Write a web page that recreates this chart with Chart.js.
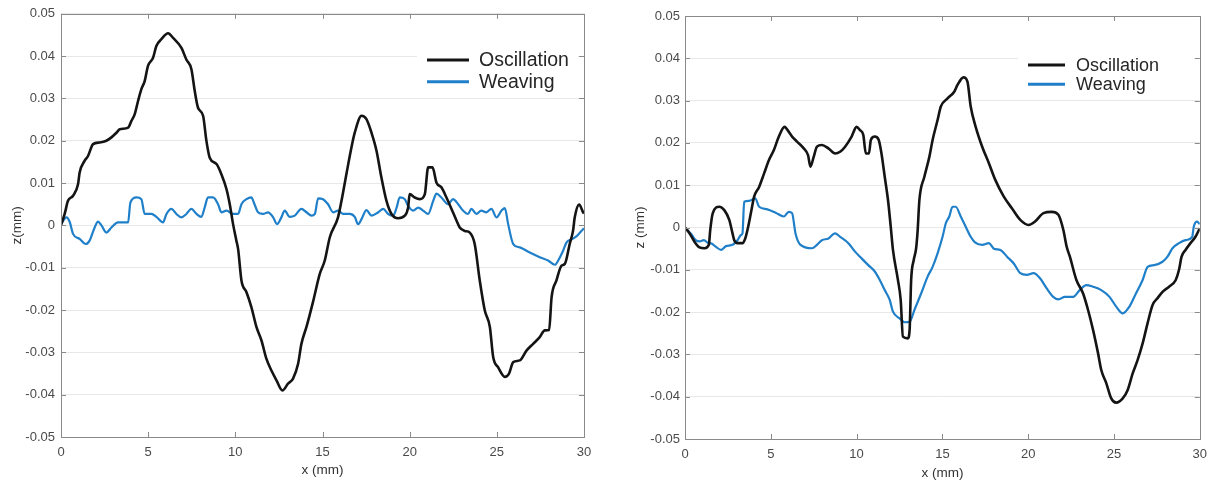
<!DOCTYPE html>
<html>
<head>
<meta charset="utf-8">
<script src="https://cdn.jsdelivr.net/npm/chart.js@4.4.0/dist/chart.umd.min.js"></script>
<style>
  body { margin: 0; background: #fff; }
  canvas { position: absolute; top: 0; }
  #left-chart { left: 0; }
  #right-chart { left: 610px; }
</style>
</head>
<body>
<canvas id="left-chart" width="600" height="484"></canvas>
<canvas id="right-chart" width="605" height="484"></canvas>
<script>
// ---- data (x in mm, z in mm) ----
const seriesNames = ['Oscillation', 'Weaving'];
const xTicks = [0, 5, 10, 15, 20, 25, 30];
const zTicks = [-0.05, -0.04, -0.03, -0.02, -0.01, 0, 0.01, 0.02, 0.03, 0.04, 0.05];

// left panel
const leftOscX = [0, 0.21, 0.4, 0.69, 0.98, 1.07, 1.36, 1.55, 1.84, 2.22, 2.6, 2.89, 3.18, 3.37, 3.85, 4.04, 4.23, 4.42, 4.61, 4.8,
  4.99, 5.28, 5.47, 5.76, 6.14, 6.43, 6.9, 7.19, 7.48, 7.67, 7.86, 8.15, 8.34, 8.53, 8.92, 9.2, 9.49, 9.68, 9.87, 10.06,
  10.16, 10.35, 10.64, 10.92, 11.21, 11.5, 11.78, 12.07, 12.36, 12.7, 13.02, 13.31, 13.6, 13.79, 14.08, 14.46, 14.84, 15.13, 15.42, 15.89,
  16.09, 16.37, 16.66, 16.85, 17.24, 17.52, 17.81, 18.1, 18.38, 18.67, 18.96, 19.34, 19.72, 19.91, 20.0, 20.29, 20.58, 20.87, 21.06, 21.31,
  21.54, 21.82, 22.11, 22.4, 22.69, 22.87, 23.16, 23.45, 23.73, 24.02, 24.31, 24.6, 24.79, 25.07, 25.46, 25.7, 25.94, 26.32, 26.7, 27.08,
  27.46, 27.75, 28.0, 28.14, 28.42, 28.71, 28.9, 29.18, 29.37, 29.47, 29.72, 29.95, 30];
const leftOscZ = [0, 0.0027, 0.0058, 0.007, 0.0098, 0.0125, 0.0153, 0.0164, 0.0192, 0.0196, 0.02, 0.0208, 0.0219, 0.0227, 0.0231, 0.0247, 0.0263, 0.0294, 0.0322, 0.0341,
  0.0377, 0.0396, 0.0424, 0.044, 0.0454, 0.0443, 0.042, 0.0392, 0.0369, 0.0318, 0.0278, 0.0259, 0.02, 0.016, 0.0145, 0.0121, 0.0086, 0.005, 0.0003, -0.0036,
  -0.0056, -0.013, -0.0158, -0.0193, -0.024, -0.0272, -0.0315, -0.0343, -0.0366, -0.039, -0.0374, -0.0362, -0.0327, -0.028, -0.024, -0.018, -0.0115, -0.0083, -0.0028, 0.0019,
  0.0058, 0.0121, 0.0184, 0.0219, 0.0259, 0.0251, 0.0219, 0.0176, 0.0113, 0.0058, 0.0027, 0.0017, 0.0023, 0.0042, 0.0074, 0.0066, 0.0062, 0.0074, 0.0137, 0.0137,
  0.0101, 0.009, 0.0066, 0.0039, 0.0011, -0.0005, -0.0013, -0.0017, -0.0044, -0.013, -0.0201, -0.024, -0.0311, -0.0335, -0.0358, -0.035, -0.0323, -0.0319, -0.0296, -0.028,
  -0.0264, -0.0248, -0.0247, -0.017, -0.013, -0.0095, -0.0091, -0.0044, -0.0013, 0.0019, 0.0049, 0.0031, 0.0028];

const leftWeaX = [0, 0.31, 0.5, 0.69, 1.07, 1.42, 1.64, 1.93, 2.12, 2.32, 2.6, 2.89, 3.27, 3.85, 3.98, 4.33, 4.61, 4.8, 5.19, 5.47,
  5.85, 6.05, 6.33, 6.62, 6.9, 7.19, 7.48, 7.77, 8.05, 8.24, 8.43, 8.72, 9.01, 9.2, 9.49, 9.87, 10.16, 10.35, 10.64, 10.92,
  11.1, 11.3, 11.59, 11.88, 12.17, 12.39, 12.64, 12.83, 13.12, 13.41, 13.79, 14.08, 14.37, 14.56, 14.75, 15.03, 15.32, 15.61, 15.89, 16.18,
  16.56, 16.85, 17.04, 17.24, 17.52, 17.81, 18.2, 18.48, 18.77, 19.06, 19.25, 19.43, 19.72, 19.91, 20.2, 20.49, 20.77, 21.06, 21.35, 21.54,
  21.82, 22.2, 22.49, 22.78, 23.06, 23.35, 23.54, 23.83, 24.11, 24.4, 24.69, 24.98, 25.27, 25.46, 25.65, 25.94, 26.32, 26.89, 27.46, 27.94,
  28.33, 28.52, 28.8, 29.0, 29.28, 29.56, 29.85, 30];
const leftWeaZ = [0.0003, 0.0019, 0.0008, -0.002, -0.0032, -0.0044, -0.0036, -0.0005, 0.0009, 0, -0.0017, -0.0005, 0.0007, 0.0007, 0.0054, 0.0066, 0.0062, 0.0027, 0.0027, 0.002,
  0.0007, 0.0027, 0.0039, 0.0027, 0.0019, 0.0027, 0.0039, 0.0027, 0.002, 0.0042, 0.0066, 0.0066, 0.005, 0.0031, 0.0035, 0.0027, 0.0027, 0.005, 0.0062, 0.0066,
  0.005, 0.0031, 0.0027, 0.0031, 0.0019, 0.0003, 0.0019, 0.0035, 0.002, 0.0023, 0.0039, 0.0031, 0.0023, 0.0027, 0.0064, 0.0062, 0.005, 0.0031, 0.0035, 0.0027,
  0.0027, 0.002, 0.0003, 0.0015, 0.0036, 0.0023, 0.0031, 0.0039, 0.0027, 0.0023, 0.0042, 0.0066, 0.0062, 0.0046, 0.0035, 0.0042, 0.0035, 0.0027, 0.0058, 0.0075,
  0.0066, 0.005, 0.0062, 0.005, 0.0035, 0.0027, 0.0039, 0.0027, 0.0035, 0.0031, 0.0039, 0.0019, 0.0035, 0.0041, 0.0003, -0.0044, -0.0052, -0.0064, -0.0075, -0.0083,
  -0.0093, -0.0083, -0.006, -0.004, -0.0033, -0.0026, -0.0013, -0.0007];

// right panel
const rightOscX = [0, 0.27, 0.56, 0.85, 1.14, 1.39, 1.47, 1.62, 2.0, 2.29, 2.58, 2.77, 2.87, 3.06, 3.35, 3.51, 3.64, 3.84, 4.03, 4.32,
  4.61, 4.9, 5.18, 5.47, 5.8, 6.05, 6.24, 6.53, 6.92, 7.17, 7.31, 7.5, 7.69, 7.98, 8.36, 8.75, 9.04, 9.33, 9.71, 10.0,
  10.2, 10.39, 10.54, 10.72, 10.83, 11.06, 11.29, 11.45, 11.64, 11.83, 11.99, 12.12, 12.41, 12.57, 12.7, 12.99, 13.09, 13.18, 13.33, 13.47,
  13.56, 13.66, 13.95, 14.24, 14.43, 14.72, 14.91, 15.3, 15.69, 15.88, 16.23, 16.46, 16.65, 16.94, 17.32, 17.71, 18.09, 18.58, 19.06, 19.54,
  20.02, 20.4, 20.89, 21.37, 21.76, 22.05, 22.24, 22.43, 22.81, 23.2, 23.49, 23.78, 24.07, 24.26, 24.55, 24.84, 25.13, 25.51, 25.8, 26.09,
  26.38, 26.67, 26.96, 27.25, 27.54, 27.83, 28.21, 28.6, 28.79, 28.94, 29.17, 29.46, 29.75, 30];
const rightOscZ = [0, -0.0014, -0.0034, -0.0047, -0.0049, -0.0041, -0.0006, 0.0034, 0.0049, 0.0041, 0.0018, -0.0014, -0.003, -0.0037, -0.0037, -0.0026, -0.0006, 0.0034, 0.0073, 0.0096,
  0.0128, 0.016, 0.0183, 0.0215, 0.0238, 0.0226, 0.0215, 0.0203, 0.0187, 0.0171, 0.0144, 0.0167, 0.0191, 0.0195, 0.0187, 0.0175, 0.0179, 0.0191, 0.0215, 0.0238,
  0.023, 0.0219, 0.0175, 0.0175, 0.0207, 0.0215, 0.0207, 0.0175, 0.012, 0.0065, 0.0002, -0.0053, -0.0124, -0.0171, -0.0258, -0.0262, -0.0242, -0.0124, -0.0077, -0.0049,
  -0.0006, 0.0065, 0.012, 0.0167, 0.0207, 0.0254, 0.0286, 0.0305, 0.0321, 0.0337, 0.0355, 0.0345, 0.0286, 0.0238, 0.0191, 0.0152, 0.0112, 0.0073, 0.0045, 0.0018,
  0.0006, 0.0014, 0.0034, 0.0037, 0.003, -0.0006, -0.0045, -0.0069, -0.0124, -0.0156, -0.0195, -0.0242, -0.0297, -0.0337, -0.0368, -0.0404, -0.0414, -0.0404, -0.0384, -0.0345,
  -0.0313, -0.0274, -0.0226, -0.0183, -0.0167, -0.0152, -0.014, -0.0124, -0.01, -0.0069, -0.0053, -0.0037, -0.0022, -0.0002];

const rightWeaX = [0, 0.37, 0.62, 0.85, 1.1, 1.33, 1.55, 1.81, 2.1, 2.39, 2.77, 3.06, 3.26, 3.35, 3.45, 3.74, 4.09, 4.32, 4.8, 5.28,
  5.76, 6.05, 6.24, 6.44, 6.73, 7.4, 7.69, 7.98, 8.36, 8.74, 9.04, 9.52, 9.91, 10.29, 10.68, 11.06, 11.35, 11.64, 11.93, 12.12,
  12.51, 12.8, 13.09, 13.37, 13.76, 14.14, 14.43, 14.72, 15.01, 15.2, 15.4, 15.59, 15.78, 16.07, 16.36, 16.65, 16.9, 17.32, 17.71, 18.0,
  18.38, 18.77, 19.16, 19.54, 19.93, 20.31, 20.69, 21.08, 21.46, 21.76, 22.14, 22.62, 23.0, 23.39, 23.78, 24.26, 24.74, 25.13, 25.51, 25.9,
  26.28, 26.67, 26.96, 27.34, 27.83, 28.12, 28.41, 28.79, 29.17, 29.56, 29.65, 29.84, 30];
const rightWeaZ = [0, -0.0016, -0.003, -0.0033, -0.003, -0.0036, -0.0038, -0.0046, -0.0053, -0.0044, -0.0041, -0.003, -0.0018, -0.0014, 0.0061, 0.0063, 0.0069, 0.0049, 0.0043, 0.0035,
  0.0026, 0.0037, 0.0034, -0.0014, -0.0041, -0.0049, -0.0041, -0.003, -0.0026, -0.0014, -0.0022, -0.0037, -0.0057, -0.0073, -0.0089, -0.0104, -0.0124, -0.0148, -0.0171, -0.0199,
  -0.0215, -0.0224, -0.0223, -0.0195, -0.0156, -0.0116, -0.0093, -0.0061, -0.0022, 0.001, 0.0026, 0.0049, 0.0049, 0.0026, 0.0002, -0.0022, -0.0035, -0.0041, -0.0037, -0.005,
  -0.0053, -0.0069, -0.0085, -0.0108, -0.0112, -0.0108, -0.012, -0.0144, -0.0164, -0.017, -0.0164, -0.0164, -0.0148, -0.0136, -0.014, -0.0148, -0.0164, -0.0187, -0.0203, -0.0187,
  -0.0156, -0.0124, -0.0093, -0.0089, -0.0081, -0.0069, -0.0049, -0.0037, -0.003, -0.0022, 0.0002, 0.0014, 0.0008];

const OSC_COLOR = '#141414';
const WEA_COLOR = '#1f7fc9';
const FRAME_COLOR = '#8a8a8a';
const FONT = "'Liberation Sans', Arial, sans-serif";

function toPoints(xs, zs) {
    const n = Math.min(xs.length, zs.length);
    const pts = [];
    for (let i = 0; i < n; i++) pts.push({ x: xs[i], y: zs[i] });
    return pts;
}

// MATLAB style box with inward ticks + legend sitting inside the axes
const boxPlugin = {
    id: 'matlabBox',
    afterDatasetsDraw(chart, args, opts) {
        const { ctx, chartArea: a, scales } = chart;
        const lg = opts.legend;
        ctx.save();

        // legend
        ctx.fillStyle = '#fff';
        ctx.fillRect(lg.box[0], lg.box[1], lg.box[2], lg.box[3]);
        ctx.font = lg.fontSize + 'px ' + FONT;
        ctx.textBaseline = 'middle';
        chart.data.datasets.forEach((ds, i) => {
            const y = lg.rows[i];
            ctx.strokeStyle = ds.borderColor;
            ctx.lineWidth = 3;
            ctx.beginPath();
            ctx.moveTo(lg.lineX[0], y);
            ctx.lineTo(lg.lineX[1], y);
            ctx.stroke();
            ctx.fillStyle = '#262626';
            ctx.fillText(ds.label, lg.textX, y + 1);
        });

        // frame
        ctx.strokeStyle = FRAME_COLOR;
        ctx.lineWidth = 1;
        ctx.strokeRect(Math.round(a.left) + 0.5, Math.round(a.top) + 0.5,
            Math.round(a.right - a.left), Math.round(a.bottom - a.top));

        const t = 5;
        ctx.beginPath();
        xTicks.forEach(v => {
            const px = Math.round(scales.x.getPixelForValue(v)) + 0.5;
            ctx.moveTo(px, a.top); ctx.lineTo(px, a.top + t);
            ctx.moveTo(px, a.bottom); ctx.lineTo(px, a.bottom - t);
        });
        zTicks.forEach(v => {
            const py = Math.round(scales.y.getPixelForValue(v)) + 0.5;
            ctx.moveTo(a.left, py); ctx.lineTo(a.left + t, py);
            ctx.moveTo(a.right, py); ctx.lineTo(a.right - t, py);
        });
        ctx.stroke();
        ctx.restore();
    }
};

function makeChart(id, osc, wea, geo) {
    const ctx = document.getElementById(id).getContext('2d');
    return new Chart(ctx, {
        type: 'line',
        data: {
            datasets: [{
                label: seriesNames[0],
                data: osc,
                borderColor: OSC_COLOR,
                borderWidth: 2.6,
                pointRadius: 0,
                cubicInterpolationMode: 'monotone'
            }, {
                label: seriesNames[1],
                data: wea,
                borderColor: WEA_COLOR,
                borderWidth: 2.2,
                pointRadius: 0,
                cubicInterpolationMode: 'monotone'
            }]
        },
        options: {
            responsive: false,
            animation: false,
            layout: { padding: geo.padding },
            plugins: {
                legend: { display: false },
                tooltip: { enabled: false },
                matlabBox: { legend: geo.legend }
            },
            scales: {
                x: {
                    type: 'linear',
                    min: 0,
                    max: 30,
                    afterFit: s => { s.height = geo.xHeight; },
                    afterBuildTicks: s => { s.ticks = xTicks.map(v => ({ value: v })); },
                    grid: { display: false, drawTicks: false },
                    border: { display: false },
                    ticks: { padding: 8, color: '#4a4a4a', font: { family: FONT, size: 13 } },
                    title: {
                        display: true,
                        text: 'x (mm)',
                        color: '#333',
                        padding: { bottom: geo.xTitlePad, top: 0 },
                        font: { family: FONT, size: 13.5 }
                    }
                },
                y: {
                    type: 'linear',
                    min: -0.05,
                    max: 0.05,
                    afterFit: s => { s.width = geo.yWidth; },
                    afterBuildTicks: s => { s.ticks = zTicks.map(v => ({ value: v })); },
                    grid: { color: '#e8e8e8', lineWidth: 1, drawTicks: false },
                    border: { display: false },
                    ticks: {
                        padding: geo.yTickPad,
                        color: '#4a4a4a',
                        font: { family: FONT, size: 13 },
                        callback: v => String(+v.toFixed(2))
                    },
                    title: {
                        display: true,
                        text: geo.yTitle,
                        color: '#333',
                        padding: { top: geo.yTitlePad, bottom: 0 },
                        font: { family: FONT, size: 13.5 }
                    }
                }
            }
        },
        plugins: [boxPlugin]
    });
}

makeChart('left-chart', toPoints(leftOscX, leftOscZ), toPoints(leftWeaX, leftWeaZ), {
    padding: { left: 0, top: 13, right: 16, bottom: 0 },
    xHeight: 47,
    yWidth: 61,
    yTickPad: 6,
    xTitlePad: 6,
    yTitlePad: 9,
    yTitle: 'z(mm)',
    legend: { box: [417, 47, 161, 47], lineX: [427, 469], rows: [60, 81.7], textX: 479, fontSize: 19.5 }
});

makeChart('right-chart', toPoints(rightOscX, rightOscZ), toPoints(rightWeaX, rightWeaZ), {
    padding: { left: 0, top: 16, right: 11, bottom: 0 },
    xHeight: 45,
    yWidth: 75,
    yTickPad: 5,
    xTitlePad: 3,
    yTitlePad: 22,
    yTitle: 'z (mm)',
    legend: { box: [408, 50, 180, 44], lineX: [418, 455], rows: [65, 84.3], textX: 466, fontSize: 18 }
});
</script>
</body>
</html>
